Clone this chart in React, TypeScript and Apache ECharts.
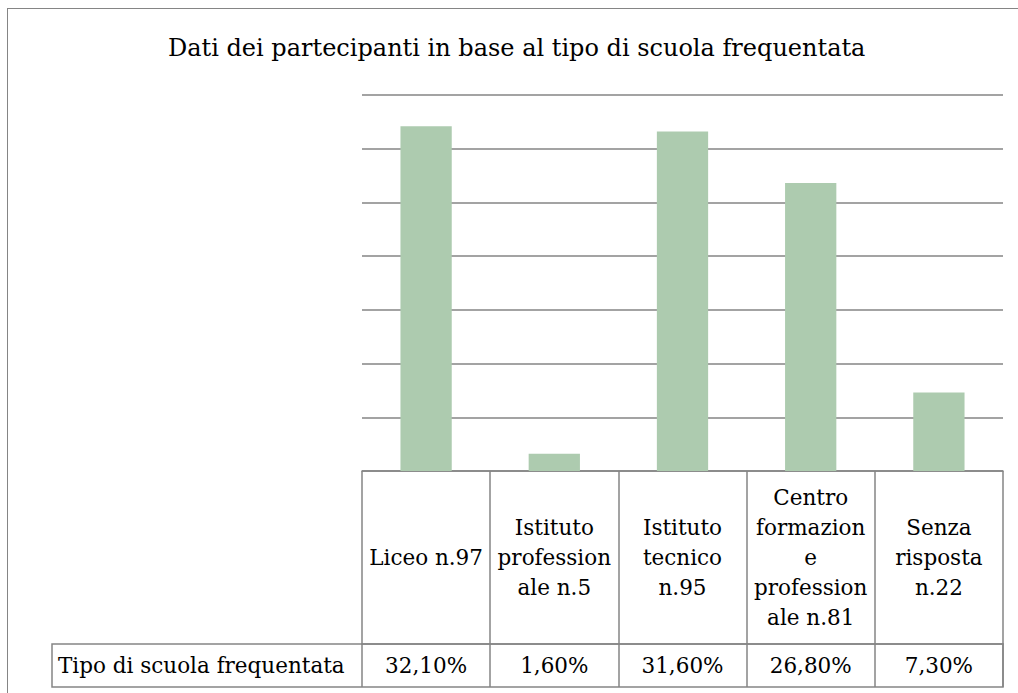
import React, { useEffect, useRef } from "react";
import * as echarts from "echarts";

const title = "Dati dei partecipanti in base al tipo di scuola frequentata";
const categories = [
  "Liceo n.97",
  "Istituto\nprofession\nale n.5",
  "Istituto\ntecnico\nn.95",
  "Centro\nformazion\ne\nprofession\nale n.81",
  "Senza\nrisposta\nn.22",
];
const values = [32.1, 1.6, 31.6, 26.8, 7.3];
const rowLabel = "Tipo di scuola frequentata";
const yMin = 0;
const yMax = 35;
const yInterval = 5;

const percentLabels = values.map((v) => v.toFixed(2).replace(".", ",") + "%");

const W = 1018;
const H = 693;
const GRID_LEFT = 362;
const GRID_RIGHT_X = 1003;
const GRID_TOP = 95;
const GRID_BOTTOM_Y = 471;
const ROW1_H = 173;
const ROW2_H = 43;
const LABEL_CELL_X = 52;
const FONT = "'DejaVu Serif', serif";
const LINE = "#858585";
const BAR = "#adcbaf";
const LW = 1.5;

export default function App() {
  const ref = useRef<HTMLDivElement>(null);
  useEffect(() => {
    if (!ref.current) return;
    const chart = echarts.init(ref.current, null, { renderer: "svg" });
    const row2Top = GRID_BOTTOM_Y + ROW1_H;
    chart.setOption({
      animation: false,
      title: {
        text: title,
        left: 163,
        top: 31,
        textStyle: { fontFamily: FONT, fontSize: 24, fontWeight: "normal", color: "#000" },
      },
      grid: {
        left: GRID_LEFT,
        right: W - GRID_RIGHT_X,
        top: GRID_TOP,
        bottom: H - GRID_BOTTOM_Y,
        containLabel: false,
      },
      xAxis: [
        {
          type: "category",
          data: categories,
          position: "bottom",
          axisLine: { show: true, lineStyle: { color: LINE, width: LW } },
          axisTick: { show: true, length: ROW1_H, alignWithLabel: false, lineStyle: { color: LINE, width: LW } },
          axisLabel: {
            interval: 0,
            margin: ROW1_H / 2,
            verticalAlign: "middle",
            align: "center",
            lineHeight: 30,
            fontFamily: FONT,
            fontSize: 21.5,
            color: "#000",
          },
        },
        {
          type: "category",
          data: percentLabels,
          position: "bottom",
          offset: ROW1_H,
          axisLine: { show: true, lineStyle: { color: LINE, width: LW } },
          axisTick: { show: true, length: ROW2_H, alignWithLabel: false, lineStyle: { color: LINE, width: LW } },
          axisLabel: {
            interval: 0,
            margin: ROW2_H / 2,
            verticalAlign: "middle",
            align: "center",
            fontFamily: FONT,
            fontSize: 21.5,
            color: "#000",
          },
        },
      ],
      yAxis: {
        type: "value",
        min: yMin,
        max: yMax,
        interval: yInterval,
        axisLine: { show: false },
        axisTick: { show: false },
        axisLabel: { show: false },
        splitLine: { show: true, lineStyle: { color: LINE, width: LW } },
      },
      series: [
        {
          type: "bar",
          xAxisIndex: 0,
          data: values,
          barWidth: "40%",
          itemStyle: { color: BAR },
        },
      ],
      graphic: [
        {
          type: "rect",
          silent: true,
          shape: { x: LABEL_CELL_X, y: row2Top, width: GRID_RIGHT_X - LABEL_CELL_X, height: ROW2_H },
          style: { fill: "none", stroke: LINE, lineWidth: LW },
        },
        {
          type: "text",
          silent: true,
          x: LABEL_CELL_X + 6,
          y: row2Top + ROW2_H / 2,
          style: {
            text: rowLabel,
            fontFamily: FONT,
            fontSize: 21.5,
            fill: "#000",
            verticalAlign: "middle",
            align: "left",
          },
        },
      ],
    });
    return () => chart.dispose();
  }, []);
  return (
    <div
      style={{
        position: "absolute",
        left: 0,
        top: 0,
        width: W,
        height: H,
        overflow: "hidden",
        background: "#fff",
      }}
    >
      <div
        style={{
          position: "absolute",
          left: 7,
          top: 8,
          width: W + 40,
          height: H + 40,
          borderTop: `${LW}px solid ${LINE}`,
          borderLeft: `${LW}px solid ${LINE}`,
          boxSizing: "border-box",
        }}
      />
      <div
        ref={ref}
        style={{ position: "absolute", left: 0, top: 0, width: W, height: H }}
      />
    </div>
  );
}
